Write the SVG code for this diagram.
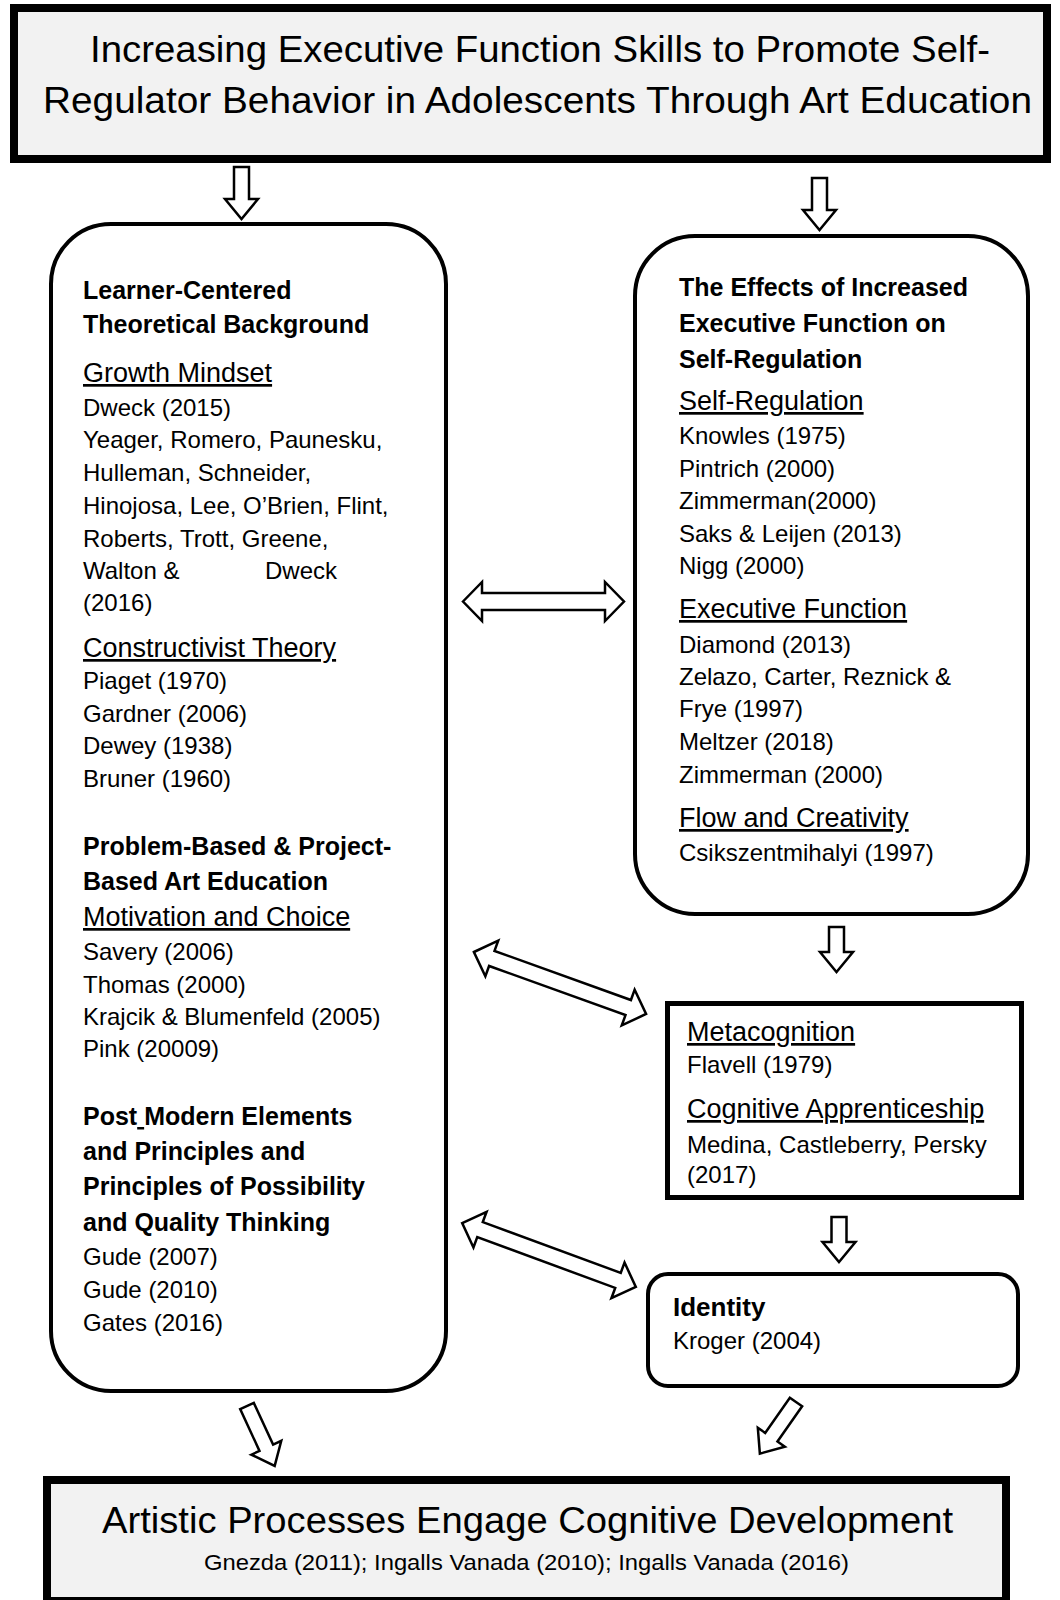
<svg xmlns="http://www.w3.org/2000/svg" width="1060" height="1600" viewBox="0 0 1060 1600">
<style>
text{font-family:"Liberation Sans",Arial,sans-serif;fill:#000}
.b{font-size:25px;font-weight:bold}
.h{font-size:27px;text-decoration:underline}
.t{font-size:24px}
.title{font-size:36px}
.box{fill:#fff;stroke:#000;stroke-width:4}
.big{fill:#f2f2f2;stroke:#000;stroke-width:8}
.arr{fill:#fff;stroke:#000;stroke-width:2.5;stroke-linejoin:miter}
</style>
<rect width="1060" height="1600" fill="#fff"/>
<g id="top-title">
<rect class="big" x="14" y="8" width="1033" height="151"/>
<text class="title" x="90" y="62" textLength="900" lengthAdjust="spacingAndGlyphs">Increasing Executive Function Skills to Promote Self-</text>
<text class="title" x="43" y="113" textLength="989" lengthAdjust="spacingAndGlyphs">Regulator Behavior in Adolescents Through Art Education</text>
</g>
<g id="learner-centered">
<rect class="box" x="51" y="224" width="395" height="1167" rx="60" ry="60"/>
<text class="b" x="83" y="299">Learner-Centered</text>
<text class="b" x="83" y="333">Theoretical Background</text>
<text class="h" x="83" y="382">Growth Mindset</text>
<text class="t" x="83" y="416">Dweck (2015)</text>
<text class="t" x="83" y="448">Yeager, Romero, Paunesku,</text>
<text class="t" x="83" y="481">Hulleman, Schneider,</text>
<text class="t" x="83" y="514">Hinojosa, Lee, O’Brien, Flint,</text>
<text class="t" x="83" y="547">Roberts, Trott, Greene,</text>
<text class="t" x="83" y="579">Walton &amp;<tspan x="265">Dweck</tspan></text>
<text class="t" x="83" y="611">(2016)</text>
<text class="h" x="83" y="657">Constructivist Theory</text>
<text class="t" x="83" y="689">Piaget (1970)</text>
<text class="t" x="83" y="722">Gardner (2006)</text>
<text class="t" x="83" y="754">Dewey (1938)</text>
<text class="t" x="83" y="787">Bruner (1960)</text>
<text class="b" x="83" y="855">Problem-Based &amp; Project-</text>
<text class="b" x="83" y="890">Based Art Education</text>
<text class="h" x="83" y="926">Motivation and Choice</text>
<text class="t" x="83" y="960">Savery (2006)</text>
<text class="t" x="83" y="993">Thomas (2000)</text>
<text class="t" x="83" y="1025">Krajcik &amp; Blumenfeld (2005)</text>
<text class="t" x="83" y="1057">Pink (20009)</text>
<text class="b" x="83" y="1125">Post<tspan text-decoration="underline"> </tspan>Modern Elements</text>
<text class="b" x="83" y="1160">and Principles and</text>
<text class="b" x="83" y="1195">Principles of Possibility</text>
<text class="b" x="83" y="1231">and Quality Thinking</text>
<text class="t" x="83" y="1265">Gude (2007)</text>
<text class="t" x="83" y="1298">Gude (2010)</text>
<text class="t" x="83" y="1331">Gates (2016)</text>
</g>
<g id="effects">
<rect class="box" x="635" y="236" width="393" height="678" rx="60" ry="60"/>
<text class="b" x="679" y="296">The Effects of Increased</text>
<text class="b" x="679" y="332">Executive Function on</text>
<text class="b" x="679" y="368">Self-Regulation</text>
<text class="h" x="679" y="410">Self-Regulation</text>
<text class="t" x="679" y="444">Knowles (1975)</text>
<text class="t" x="679" y="477">Pintrich (2000)</text>
<text class="t" x="679" y="509">Zimmerman(2000)</text>
<text class="t" x="679" y="542">Saks &amp; Leijen (2013)</text>
<text class="t" x="679" y="574">Nigg (2000)</text>
<text class="h" x="679" y="618">Executive Function</text>
<text class="t" x="679" y="653">Diamond (2013)</text>
<text class="t" x="679" y="685">Zelazo, Carter, Reznick &amp;</text>
<text class="t" x="679" y="717">Frye (1997)</text>
<text class="t" x="679" y="750">Meltzer (2018)</text>
<text class="t" x="679" y="783">Zimmerman (2000)</text>
<text class="h" x="679" y="827">Flow and Creativity</text>
<text class="t" x="679" y="861">Csikszentmihalyi (1997)</text>
</g>
<g id="metacognition">
<rect class="box" x="667.5" y="1003.5" width="354" height="194" style="stroke-width:5"/>
<text class="h" x="687" y="1041">Metacognition</text>
<text class="t" x="687" y="1073">Flavell (1979)</text>
<text class="h" x="687" y="1118">Cognitive Apprenticeship</text>
<text class="t" x="687" y="1153">Medina, Castleberry, Persky</text>
<text class="t" x="687" y="1183">(2017)</text>
</g>
<g id="identity">
<rect class="box" x="648" y="1274" width="370" height="112" rx="20" ry="20"/>
<text class="b" x="673" y="1316" style="font-size:26px">Identity</text>
<text class="t" x="673" y="1349">Kroger (2004)</text>
</g>
<g id="artistic-processes">
<rect class="big" x="47" y="1480" width="959" height="121"/>
<text class="title" x="102" y="1533" textLength="851" lengthAdjust="spacingAndGlyphs">Artistic Processes Engage Cognitive Development</text>
<text x="204" y="1570" style="font-size:22px" textLength="645" lengthAdjust="spacingAndGlyphs">Gnezda (2011); Ingalls Vanada (2010); Ingalls Vanada (2016)</text>
</g>
<g id="connectors">
<path class="arr" transform="translate(241.5,167)" d="M-7.5,0 H7.5 V32 H16.5 L0,52 L-16.5,32 H-7.5 Z"/>
<path class="arr" transform="translate(819.5,178)" d="M-7.5,0 H7.5 V32 H16.5 L0,52 L-16.5,32 H-7.5 Z"/>
<path class="arr" transform="translate(836.5,927)" d="M-7.5,0 H7.5 V25 H16.5 L0,45 L-16.5,25 H-7.5 Z"/>
<path class="arr" transform="translate(839,1217)" d="M-7.5,0 H7.5 V25 H16.5 L0,45 L-16.5,25 H-7.5 Z"/>
<path class="arr" transform="translate(247,1406) rotate(-24.8)" d="M-7.5,0 H7.5 V46 H16.5 L0,66 L-16.5,46 H-7.5 Z"/>
<path class="arr" transform="translate(796,1402) rotate(35)" d="M-7.5,0 H7.5 V43 H16.5 L0,63 L-16.5,43 H-7.5 Z"/>
<path class="arr" transform="translate(543.5,601.5)" d="M-80.5,0 L-61.5,-19.5 V-8.5 H61.5 V-19.5 L80.5,0 L61.5,19.5 V8.5 H-61.5 V19.5 Z"/>
<path class="arr" transform="translate(560,983) rotate(19.8)" d="M-91.5,0 L-72.5,-19 V-8 H72.5 V-19 L91.5,0 L72.5,19 V8 H-72.5 V19 Z"/>
<path class="arr" transform="translate(549,1255) rotate(20.2)" d="M-92.5,0 L-73.5,-19 V-8 H73.5 V-19 L92.5,0 L73.5,19 V8 H-73.5 V19 Z"/>
</g>
</svg>
